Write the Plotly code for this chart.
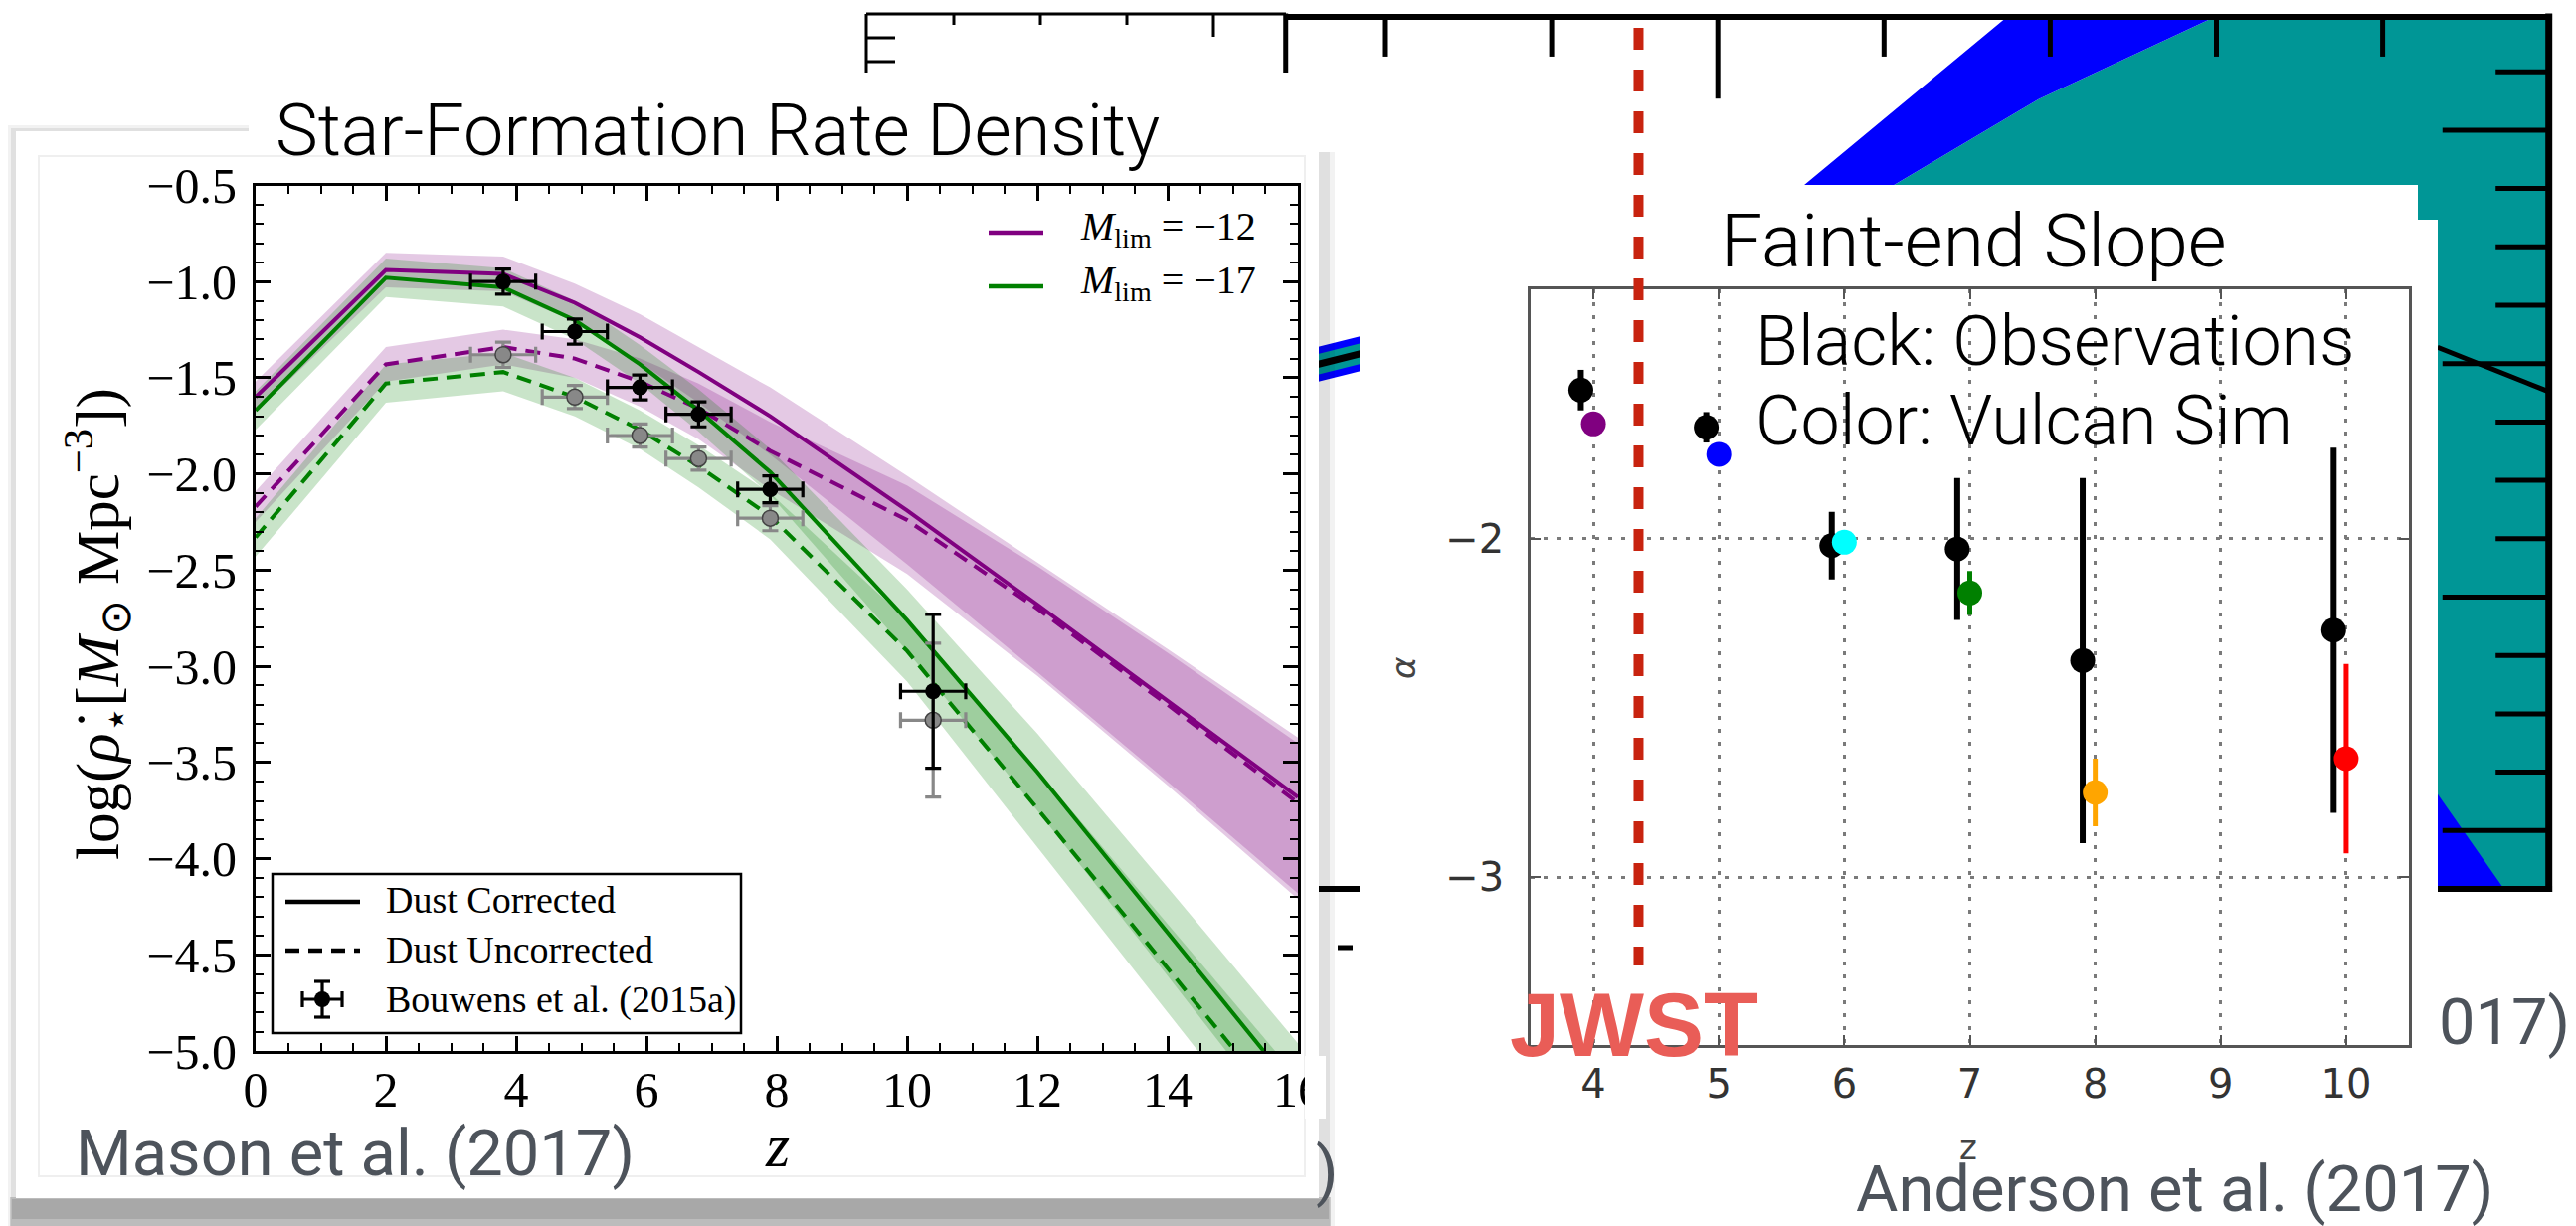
import plotly.graph_objects as go

W, H = 2590, 1233

# ---------------- data: star-formation rate density (Mason et al. 2017) ----------------
z_model = [0, 2, 3.8, 4.9, 5.9, 6.8, 7.9, 10, 12, 14, 16]
sfrd_m12_corr = [-1.60, -0.94, -0.96, -1.11, -1.29, -1.47, -1.70, -2.19, -2.68, -3.18, -3.68]
sfrd_m12_unc = [-2.17, -1.43, -1.34, -1.40, -1.52, -1.66, -1.88, -2.24, -2.70, -3.20, -3.71]
sfrd_m17_corr = [-1.67, -0.98, -1.03, -1.20, -1.43, -1.67, -1.99, -2.76, -3.55, -4.38, -5.22]
sfrd_m17_unc = [-2.33, -1.53, -1.47, -1.60, -1.77, -1.96, -2.22, -2.92, -3.74, -4.57, -5.40]
band_m12_up = [0.08, 0.09, 0.09, 0.10, 0.12, 0.13, 0.15, 0.18, 0.22, 0.27, 0.31]
band_m12_dn = [0.08, 0.09, 0.09, 0.10, 0.13, 0.16, 0.20, 0.28, 0.35, 0.42, 0.50]
band_m17 = [0.10, 0.10, 0.10, 0.10, 0.10, 0.11, 0.12, 0.16, 0.20, 0.23, 0.26]

bouwens_z = [3.8, 4.9, 5.9, 6.8, 7.9, 10.4]
bouwens_zerr = [0.5, 0.5, 0.5, 0.5, 0.5, 0.5]
bouwens_corr = [-1.00, -1.26, -1.55, -1.69, -2.08, -3.13]
bouwens_corr_err = [0.065, 0.065, 0.065, 0.065, 0.07, 0.40]
bouwens_unc = [-1.38, -1.60, -1.80, -1.92, -2.23, -3.28]
bouwens_unc_err = [0.065, 0.06, 0.06, 0.06, 0.065, 0.40]

sfrd_xticks = [0, 2, 4, 6, 8, 10, 12, 14, 16]

# ---------------- data: faint-end slope (Anderson et al. 2017) ----------------
obs_z = [3.9, 4.9, 5.9, 6.9, 7.9, 9.9]
obs_alpha = [-1.56, -1.67, -2.02, -2.03, -2.36, -2.27]
obs_alpha_err = [0.06, 0.045, 0.10, 0.21, 0.54, 0.54]
sim_z = [4, 5, 6, 7, 8, 10]
sim_alpha = [-1.66, -1.75, -2.01, -2.16, -2.75, -2.65]
sim_alpha_err = [0.0, 0.0, 0.02, 0.065, 0.10, 0.28]
sim_colors = ['#800080', '#0000ff', '#00ffff', '#008000', '#ffa500', '#ff0000']
alpha_xticks = [4, 5, 6, 7, 8, 9, 10]
alpha_yticks = [-2, -3]
jwst_z = 4.36

# ---------------- background (partly hidden) plot, in its own tick units ----------------
bg_teal_x = [3.06, 3.93, 4.99, 7.0, 7.0, 2.4, 2.4]
bg_teal_y = [12.06, 13.53, 14.94, 14.94, 0.0, 0.0, 12.06]
bg_blue_top_x = [2.52, 3.74, 4.99, 3.93, 3.06]
bg_blue_top_y = [12.06, 14.94, 14.94, 13.53, 12.06]
bg_blue_bot_x = [5.91, 6.73, 5.91]
bg_blue_bot_y = [3.34, 0.0, 0.0]
bg_curve_x = [6.33, 7.0]
bg_curve_y = [9.28, 8.52]
bg_band_x = [-0.6, 0.2]
bg_band_y = [8.85, 9.42]
bg_top_ticks = [0, 1, 2, 3, 4, 5, 6]
bg_right_ticks = [1, 2, 3, 4, 5, 6, 7, 8, 9, 10, 11, 12, 13, 14]


def X(p):
    return p / W


def Y(p):
    return 1 - p / H


def BX(u):
    return X(1393 + u * 167.1)


def BY(v):
    return Y(894 - v * 58.7)


shapes = []
annotations = []


def rect(x0, y0, x1, y1, fill, layer='below', line=None):
    shapes.append(dict(type='rect', xref='paper', yref='paper', x0=X(x0), x1=X(x1), y0=Y(y1), y1=Y(y0),
                       fillcolor=fill, line=line if line else dict(width=0), layer=layer))


def seg(x0, y0, x1, y1, color, width, layer='below', dash=None):
    ln = dict(color=color, width=width)
    if dash:
        ln['dash'] = dash
    shapes.append(dict(type='line', xref='paper', yref='paper', x0=X(x0), y0=Y(y0), x1=X(x1), y1=Y(y1),
                       line=ln, layer=layer))


def bpoly(xs, ys, fill):
    path = 'M ' + ' L '.join(f'{BX(a):.5f},{BY(b):.5f}' for a, b in zip(xs, ys)) + ' Z'
    shapes.append(dict(type='path', xref='paper', yref='paper', path=path, fillcolor=fill,
                       line=dict(width=0), layer='below'))


def bline(xs, ys, color, width):
    shapes.append(dict(type='line', xref='paper', yref='paper', x0=BX(xs[0]), y0=BY(ys[0]),
                       x1=BX(xs[1]), y1=BY(ys[1]), line=dict(color=color, width=width), layer='below'))


def text(s, x, y, size, color='black', family='Roboto', xanchor='left', weight=None, angle=0):
    f = dict(family=family, size=size, color=color)
    if weight:
        f['weight'] = weight
    annotations.append(dict(text=s, x=X(x), y=Y(y), xref='paper', yref='paper', xanchor=xanchor,
                            yanchor='middle', showarrow=False, font=f, textangle=angle))


TEAL = '#009696'
BLUE = '#0000ff'

# ---- background plot ----
bpoly(bg_teal_x, bg_teal_y, TEAL)
bpoly(bg_blue_top_x, bg_blue_top_y, BLUE)
bpoly(bg_blue_bot_x, bg_blue_bot_y, BLUE)
bline(bg_curve_x, bg_curve_y, 'black', 5)
bline(bg_band_x, bg_band_y, BLUE, 34)
bline(bg_band_x, bg_band_y, TEAL, 20)
bline(bg_band_x, bg_band_y, 'black', 7)
shapes.append(dict(type='line', xref='paper', yref='paper', x0=BX(-0.6), x1=BX(7.02), y0=BY(14.94), y1=BY(14.94),
                   line=dict(color='black', width=6), layer='below'))
shapes.append(dict(type='line', xref='paper', yref='paper', x0=BX(7.0), x1=BX(7.0), y0=BY(-0.05), y1=BY(15.0),
                   line=dict(color='black', width=7), layer='below'))
shapes.append(dict(type='line', xref='paper', yref='paper', x0=BX(-0.6), x1=BX(7.02), y0=BY(0), y1=BY(0),
                   line=dict(color='black', width=6), layer='below'))
shapes.append(dict(type='line', xref='paper', yref='paper', x0=BX(-0.6), x1=BX(-0.6), y0=BY(0), y1=BY(15.0),
                   line=dict(color='black', width=5), layer='below'))
for t in bg_top_ticks:
    ln = 1.4 if t == 2 else 0.68
    shapes.append(dict(type='line', xref='paper', yref='paper', x0=BX(t), x1=BX(t), y0=BY(14.94), y1=BY(14.94 - ln),
                       line=dict(color='black', width=5), layer='below'))
for t in bg_right_ticks:
    ln = 0.64 if t in (1, 5, 9, 13) else 0.32
    shapes.append(dict(type='line', xref='paper', yref='paper', x0=BX(7.0), x1=BX(7.0 - ln), y0=BY(t), y1=BY(t),
                       line=dict(color='black', width=5), layer='below'))
seg(871, 14, 1293, 14, 'black', 3)
seg(871, 14, 871, 80, 'black', 3)
seg(871, 38, 900, 38, 'black', 3)
seg(871, 62, 900, 62, 'black', 3)
for xx, ll in ((959, 25), (1046, 25), (1133, 25), (1220, 37)):
    seg(xx, 14, xx, ll, 'black', 3)
seg(1345, 953, 1360, 953, 'black', 5)

# ---- SFRD panel (white card with drop shadow) ----
rect(8, 126, 1342, 1233, 'rgba(0,0,0,0.05)')
rect(11, 129, 1337, 1233, 'rgba(0,0,0,0.07)')
rect(10, 1204, 1338, 1233, 'rgba(0,0,0,0.16)')
rect(12, 1206, 1336, 1226, 'rgba(0,0,0,0.10)')
rect(16, 132, 1326, 1205, 'white')
rect(39, 157, 1312, 1183, 'rgba(0,0,0,0)', line=dict(color='#efefef', width=2))
rect(250, 73, 1345, 153, 'white')
# ---- faint-end slope panel ----
rect(1367, 186, 2431, 1233, 'white')
rect(2431, 221, 2451, 1233, 'white')

# ---- SFRD traces ----
traces = []
PURPLE_FILL = 'rgba(128,0,128,0.21)'
GREEN_FILL = 'rgba(0,128,0,0.21)'


def band(center, up, dn, fill):
    upper = [c + u for c, u in zip(center, up)]
    lower = [c - d for c, d in zip(center, dn)]
    traces.append(go.Scatter(x=z_model + z_model[::-1], y=upper + lower[::-1], fill='toself', fillcolor=fill,
                             mode='lines', line=dict(width=0), hoverinfo='skip', xaxis='x', yaxis='y'))


band(sfrd_m12_corr, band_m12_up, band_m12_dn, PURPLE_FILL)
band(sfrd_m12_unc, band_m12_up, band_m12_dn, PURPLE_FILL)
band(sfrd_m17_corr, band_m17, band_m17, GREEN_FILL)
band(sfrd_m17_unc, band_m17, band_m17, GREEN_FILL)

for ys, col, dash in ((sfrd_m12_corr, '#800080', 'solid'), (sfrd_m12_unc, '#800080', '15px,9px'),
                      (sfrd_m17_corr, '#008000', 'solid'), (sfrd_m17_unc, '#008000', '15px,9px')):
    traces.append(go.Scatter(x=z_model, y=ys, mode='lines', line=dict(color=col, width=4, dash=dash),
                             xaxis='x', yaxis='y'))

traces.append(go.Scatter(x=bouwens_z, y=bouwens_unc, mode='markers',
                         marker=dict(color='#888888', size=16, line=dict(color='#444444', width=1.5)),
                         error_x=dict(type='data', array=bouwens_zerr, color='#888888', thickness=3.2, width=8),
                         error_y=dict(type='data', array=bouwens_unc_err, color='#888888', thickness=3.2, width=8),
                         xaxis='x', yaxis='y'))
traces.append(go.Scatter(x=bouwens_z, y=bouwens_corr, mode='markers',
                         marker=dict(color='black', size=16),
                         error_x=dict(type='data', array=bouwens_zerr, color='black', thickness=3.2, width=8),
                         error_y=dict(type='data', array=bouwens_corr_err, color='black', thickness=3.2, width=8),
                         xaxis='x', yaxis='y'))

# ---- faint-end slope traces ----
traces.append(go.Scatter(x=obs_z, y=obs_alpha, mode='markers', marker=dict(color='black', size=25),
                         error_y=dict(type='data', array=obs_alpha_err, color='black', thickness=6, width=0),
                         xaxis='x2', yaxis='y2'))
for zz, aa, ee, cc in zip(sim_z, sim_alpha, sim_alpha_err, sim_colors):
    traces.append(go.Scatter(x=[zz], y=[aa], mode='markers', marker=dict(color=cc, size=25),
                             error_y=dict(type='data', array=[ee], color=cc, thickness=5, width=0),
                             xaxis='x2', yaxis='y2'))

fig = go.Figure(traces)

serif = 'Liberation Serif'
sfrd_axis_common = dict(showline=True, linecolor='black', linewidth=3, mirror='ticks', ticks='inside',
                        ticklen=15, tickwidth=2.5, tickcolor='black', showgrid=False, zeroline=False,
                        automargin=False, tickfont=dict(family=serif, size=50, color='black'))
alpha_axis_common = dict(showline=True, linecolor='#555555', linewidth=2.5, mirror='ticks', ticks='inside',
                         ticklen=10, tickwidth=2, tickcolor='#555555', showgrid=True, gridcolor='#7a7a7a',
                         gridwidth=2.5, griddash='4px,9px', zeroline=False, automargin=False,
                         tickfont=dict(family='DejaVu Sans', size=40, color='#333333'))
fig.update_layout(
    width=W, height=H, margin=dict(l=0, r=0, t=0, b=0, pad=0, autoexpand=False), paper_bgcolor='white',
    plot_bgcolor='rgba(0,0,0,0)', showlegend=False,
    xaxis=dict(domain=[X(257), X(1305)], range=[0, 16], anchor='y', tickvals=sfrd_xticks,
               minor=dict(dtick=0.5, ticks='inside', ticklen=8, tickwidth=2, tickcolor='black'),
               ticklabelstandoff=-7, **sfrd_axis_common),
    yaxis=dict(domain=[Y(1057), Y(186.5)], range=[-5, -0.5], anchor='x', dtick=0.5, tick0=-5,
               tickformat='.1f',
               minor=dict(dtick=0.1, ticks='inside', ticklen=8, tickwidth=2, tickcolor='black'),
               ticklabelstandoff=6, **sfrd_axis_common),
    xaxis2=dict(domain=[X(1539), X(2422)], range=[3.5, 10.5], anchor='y2', tickvals=alpha_xticks,
                ticklabelstandoff=2, **alpha_axis_common),
    yaxis2=dict(domain=[Y(1051), Y(291)], range=[-3.497, -1.262], anchor='x2', tickvals=alpha_yticks,
                ticklabelstandoff=16, **alpha_axis_common),
)

# ---- SFRD legends ----
seg(994, 234, 1049, 234, '#800080', 4.5, layer='above')
seg(994, 288, 1049, 288, '#008000', 4.5, layer='above')
text('<i>M</i><sub>lim</sub> = −12', 1084, 230, 40, family=serif)
text('<i>M</i><sub>lim</sub> = −17', 1084, 284, 40, family=serif)

rect(274, 879, 745, 1039, 'white', layer='above', line=dict(color='black', width=2.5))
seg(287, 907, 362, 907, 'black', 4.5, layer='above')
seg(287, 956, 362, 956, 'black', 4.5, layer='above', dash='14px,9px')
seg(304, 1005, 344, 1005, 'black', 3.2, layer='above')
seg(304, 997, 304, 1013, 'black', 3.2, layer='above')
seg(344, 997, 344, 1013, 'black', 3.2, layer='above')
seg(324, 987, 324, 1023, 'black', 3.2, layer='above')
seg(316, 987, 332, 987, 'black', 3.2, layer='above')
seg(316, 1023, 332, 1023, 'black', 3.2, layer='above')
shapes.append(dict(type='circle', xref='paper', yref='paper', x0=X(316), x1=X(332), y0=Y(1013), y1=Y(997),
                   fillcolor='black', line=dict(width=0), layer='above'))
text('Dust Corrected', 386, 905, 38, family=serif)
text('Dust Uncorrected', 386, 955, 38, family=serif)
text('Bouwens et al. (2015a)', 386, 1005, 38, family=serif)

# clip the last x tick label where the original figure image was cropped
rect(1312, 1062, 1333, 1125, 'white', layer='above')

# JWST marker line
shapes.append(dict(type='line', xref='x2', yref='paper', x0=jwst_z, x1=jwst_z, y0=Y(28), y1=Y(971),
                   line=dict(color='#c8230f', width=10, dash='22px,20px'), layer='above'))

# ---- texts ----
text('Star-Formation Rate Density', 721, 131, 72, xanchor='center', weight=300)
text('Faint-end Slope', 1984, 242, 75, xanchor='center', weight=300)
text('Black: Observations', 1763, 343, 70, weight=300)
text('Color: Vulcan Sim', 1763, 423, 70, weight=300)
text('log(<i>ρ̇</i><sub>⋆</sub>[<i>M</i><sub>⊙</sub> Mpc<sup>−3</sup>])', 97, 628, 61, family=serif,
     xanchor='center', angle=-90)
text('<i>z</i>', 781, 1152, 62, family=serif, xanchor='center')
text('<i>α</i>', 1411, 672, 34, family='DejaVu Sans', color='#444444', xanchor='center', angle=-90)
text('z', 1979, 1154, 34, family='DejaVu Sans', color='#444444', xanchor='center')
CIT = '#4d535b'
text('Mason et al. (2017)', 74, 1160, 65, color=CIT)
text('Anderson et al. (2017)', 1864, 1196, 65, color=CIT)
text('017)', 2450, 1028, 65, color=CIT)
text(')', 1321, 1178, 65, color=CIT)
text('JWST', 1516, 1031, 90, color='#e95d57', family='Liberation Sans', weight=700)

fig.update_layout(shapes=shapes, annotations=annotations)
fig.write_html('out.html')
